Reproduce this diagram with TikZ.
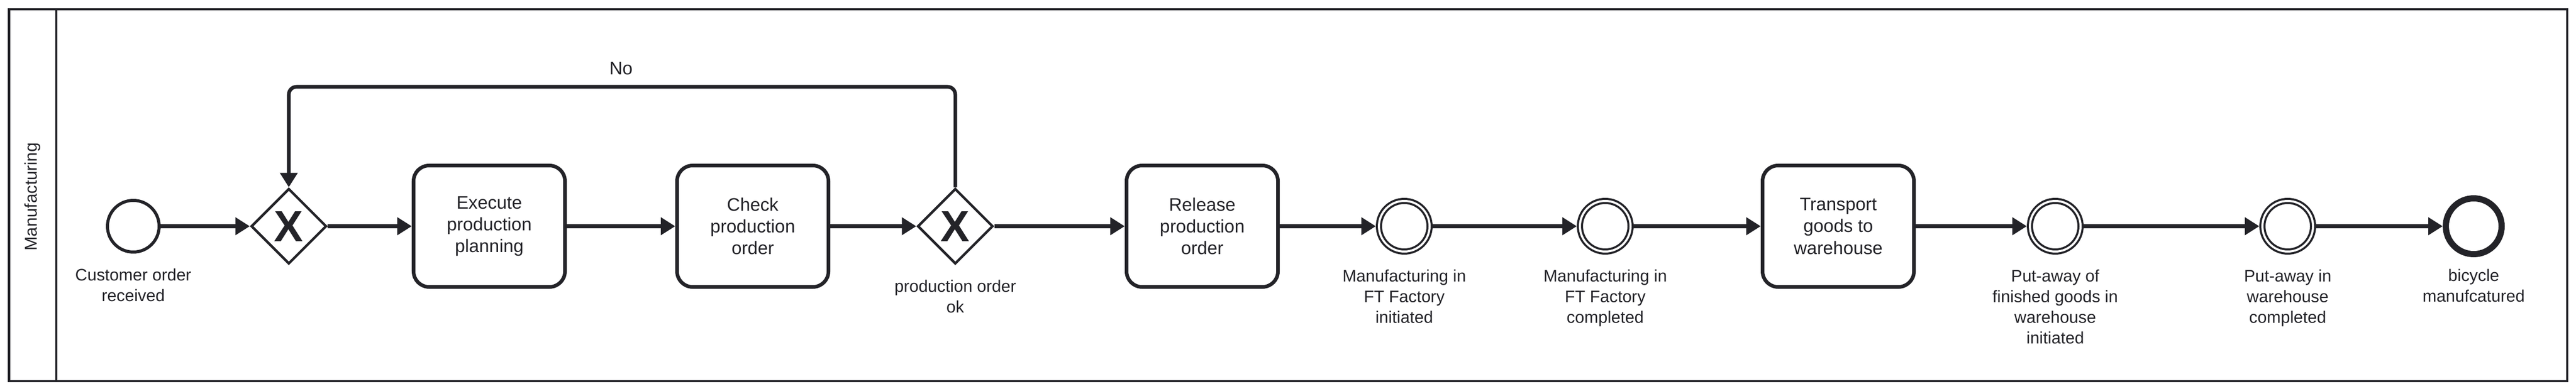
\documentclass[tikz,border=0pt]{standalone}
\usepackage{fontspec}
\setmainfont{Liberation Sans}
\usetikzlibrary{positioning}
\usetikzlibrary{shapes.geometric}
\usetikzlibrary{arrows.meta}
\definecolor{ink}{RGB}{35,35,40}

\begin{document}
\begin{tikzpicture}[
  task/.style={draw=ink, text=ink, line width=2pt, rounded corners=0.3cm, minimum width=2.93cm, minimum height=2.35cm, align=center, inner sep=0, font=\fontsize{10}{12}\selectfont},
  gate/.style={draw=ink, text=ink, diamond, line width=1.4pt, minimum size=1.46cm, inner sep=0, font=\fontsize{24}{24}\selectfont\bfseries},
  startev/.style={draw=ink, circle, line width=1.7pt, minimum size=1.0cm, inner sep=0},
  midev/.style={draw=ink, circle, double, line width=0.04cm, double distance=0.04cm, minimum size=0.98cm, inner sep=0, outer sep=0.06cm},
  endev/.style={draw=ink, circle, line width=0.12cm, minimum size=1.08cm, inner sep=0},
  evlabel/.style={text=ink, align=center, inner sep=0, font=\fontsize{9.2}{11.4}\selectfont},
  flow/.style={draw=ink, line width=2pt, -{Triangle[length=0.28cm, width=0.33cm]}},
]
\useasboundingbox (0,0) rectangle (49.86,7.56);

% pool and lane
\draw[ink, line width=1.2pt] (0.175,0.18) rectangle (49.69,7.38);
\draw[ink, line width=1.2pt] (1.09,0.18) -- (1.09,7.38);
\node[rotate=90, text=ink, font=\fontsize{9.4}{11}\selectfont] (lane) at (0.63,3.75) {Manufacturing};

% events, gateways, tasks
\node[startev] (start) at (2.58,3.18) {};
\node[gate] (gw1) at (5.59,3.18) {X};
\node[task] (plan) at (9.47,3.18) {Execute\\production\\planning};
\node[task] (check) at (14.57,3.18) {Check\\production\\order};
\node[gate] (gw2) at (18.49,3.18) {X};
\node[task] (release) at (23.27,3.18) {Release\\production\\order};
\node[midev] (ftstart) at (27.18,3.18) {};
\node[midev] (ftdone) at (31.07,3.18) {};
\node[task] (transport) at (35.58,3.18) {Transport\\goods to\\warehouse};
\node[midev] (putstart) at (39.78,3.18) {};
\node[midev] (putdone) at (44.28,3.18) {};
\node[endev] (finish) at (47.88,3.18) {};

% labels
\node[evlabel, below=0.28cm of start] (startlbl) {Customer order\\received};
\node[evlabel, below=0.28cm of gw2] (gw2lbl) {production order\\ok};
\node[evlabel, below=0.28cm of ftstart] (ftstartlbl) {Manufacturing in\\FT Factory\\initiated};
\node[evlabel, below=0.28cm of ftdone] (ftdonelbl) {Manufacturing in\\FT Factory\\completed};
\node[evlabel, below=0.28cm of putstart] (putstartlbl) {Put-away of\\finished goods in\\warehouse\\initiated};
\node[evlabel, below=0.28cm of putdone] (putdonelbl) {Put-away in\\warehouse\\completed};
\node[evlabel, below=0.22cm of finish] (finishlbl) {bicycle\\manufcatured};
\node[text=ink, font=\fontsize{10}{12}\selectfont] (nolbl) at (12.02,6.23) {No};

% sequence flows
\draw[flow] (start) -- (gw1);
\draw[flow] (gw1) -- (plan);
\draw[flow] (plan) -- (check);
\draw[flow] (check) -- (gw2);
\draw[flow] (gw2) -- (release);
\draw[flow] (release) -- (ftstart);
\draw[flow] (ftstart) -- (ftdone);
\draw[flow] (ftdone) -- (transport);
\draw[flow] (transport) -- (putstart);
\draw[flow] (putstart) -- (putdone);
\draw[flow] (putdone) -- (finish);

\coordinate (noturn) at (5.59,5.88);
\draw[flow, rounded corners=0.15cm] (gw2.north) |- (noturn) -- (gw1.north);

\end{tikzpicture}
\end{document}
